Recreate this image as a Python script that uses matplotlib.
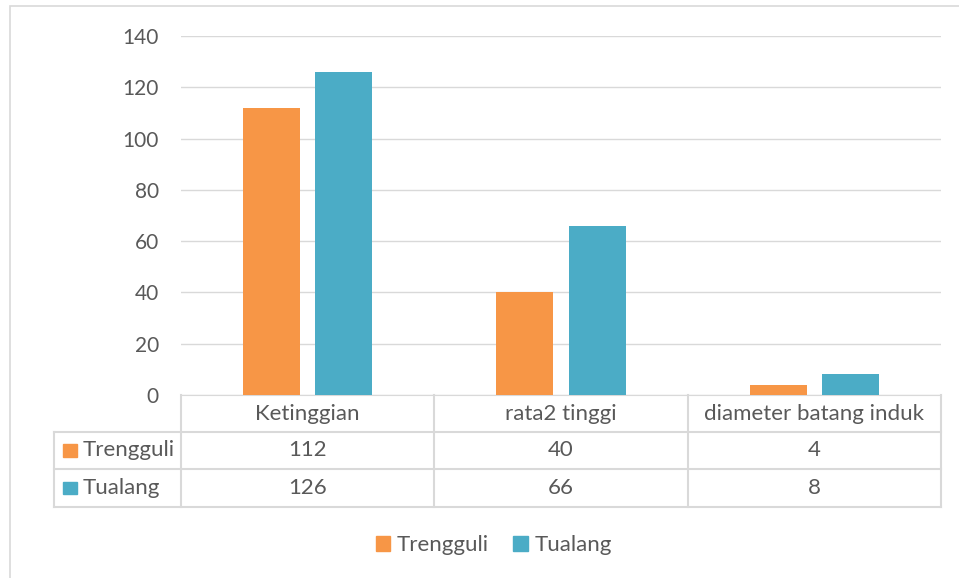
import numpy as np
import matplotlib.pyplot as plt
from matplotlib.patches import Rectangle
from matplotlib.lines import Line2D
import matplotlib.transforms as mtransforms

categories = ['Ketinggian', 'rata2 tinggi', 'diameter batang induk']
series_names = ['Trengguli', 'Tualang']
trengguli = [112, 40, 4]
tualang = [126, 66, 8]
yticks = [0, 20, 40, 60, 80, 100, 120, 140]

colors = ['#F79646', '#4BACC6']
txt = '#595959'
grid = '#D9D9D9'
fs = 16

plt.rcParams['font.family'] = ['Lato', 'DejaVu Sans']
plt.rcParams['font.size'] = fs

W, H = 959, 578
fig = plt.figure(figsize=(W / 100, H / 100), dpi=100)
ax = fig.add_axes([181 / W, (H - 395) / H, 760 / W, 359 / H])

# outer chart border
fig.patches.append(Rectangle((10 / W, -0.1), 2, 1.1 - 6 / H, transform=fig.transFigure,
                             fill=False, edgecolor=grid, lw=1.2))

x = np.arange(len(categories))
w = 0.225
off = 0.143
for vals, c, s in zip([trengguli, tualang], colors, [-1, 1]):
    ax.bar(x + s * off, vals, width=w, color=c, zorder=3)

ax.set_xlim(-0.5, len(categories) - 0.5)
ax.set_ylim(0, 140)
ax.set_yticks(yticks)
ax.set_xticks([])
ax.tick_params(axis='y', length=0, pad=16, colors=txt, labelsize=15)
ax.grid(axis='y', color=grid, lw=1, zorder=0)
for sp in ['top', 'right', 'left']:
    ax.spines[sp].set_visible(False)
ax.spines['bottom'].set_color(grid)

# data table under the axis
tr = mtransforms.blended_transform_factory(ax.transData, ax.transAxes)
rows = [-37 / 359, -74 / 359, -112 / 359]
lkw = dict(transform=tr, color=grid, lw=1.5, clip_on=False)
for yy in rows:
    ax.add_line(Line2D([-1.0, len(categories) - 0.5], [yy, yy], **lkw))
ax.add_line(Line2D([-1.0, -1.0], [rows[0], rows[2]], **lkw))
for xv in np.arange(len(categories) + 1) - 0.5:
    ax.add_line(Line2D([xv, xv], [0, rows[2]], **lkw))

ymid = [0 + rows[0], rows[0] + rows[1], rows[1] + rows[2]]
ymid = [v / 2 for v in ymid]
for i, cat in enumerate(categories):
    ax.text(i, ymid[0], cat, transform=tr, ha='center', va='center', color=txt, fontsize=fs)
    ax.text(i, ymid[1], str(trengguli[i]), transform=tr, ha='center', va='center', color=txt, fontsize=fs)
    ax.text(i, ymid[2], str(tualang[i]), transform=tr, ha='center', va='center', color=txt, fontsize=fs)
for name, c, ym in zip(series_names, colors, ymid[1:]):
    ax.add_patch(Rectangle((-0.964, ym - 0.018), 0.055, 0.036, transform=tr,
                           color=c, clip_on=False))
    ax.text(-0.89, ym, name, transform=tr, ha='left', va='center', color=txt, fontsize=fs)

handles = [Rectangle((0, 0), 1, 1, color=c) for c in colors]
leg = fig.legend(handles, series_names, loc='center', bbox_to_anchor=(0.515, 1 - 545 / H),
                 ncol=2, frameon=False, handlelength=0.65, handleheight=0.65,
                 handletextpad=0.3, columnspacing=1.1, fontsize=fs)
for t in leg.get_texts():
    t.set_color(txt)

fig.savefig('out.png', dpi=100)
